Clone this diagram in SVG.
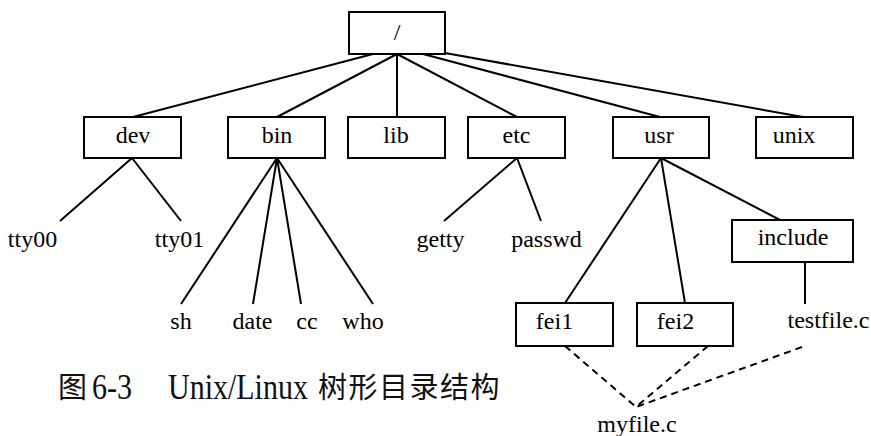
<svg xmlns="http://www.w3.org/2000/svg" width="871" height="436" viewBox="0 0 871 436">
<style>
.box{fill:#fff;stroke:#000;stroke-width:2}
.ln{stroke:#000;stroke-width:2;fill:none;stroke-linecap:butt}
.dash{stroke:#000;stroke-width:2;fill:none;stroke-dasharray:7,5}
.t{font-family:"Liberation Serif","Times New Roman",serif;font-size:24px;fill:#000;text-anchor:middle}
.cap{font-family:"Liberation Serif","Times New Roman",serif;font-size:35px;fill:#111}
.capc{font-family:"Noto Sans CJK SC",sans-serif;font-size:29px;fill:#111;letter-spacing:1.5px}
</style>
<rect width="871" height="436" fill="#fff"/>
<g id="connectors">
<line class="ln" x1="373" y1="54" x2="133" y2="117"/>
<line class="ln" x1="397" y1="54" x2="277" y2="117"/>
<line class="ln" x1="397" y1="54" x2="397" y2="117"/>
<line class="ln" x1="397" y1="54" x2="517" y2="117"/>
<line class="ln" x1="423" y1="54" x2="660" y2="117"/>
<line class="ln" x1="445" y1="53" x2="803" y2="117"/>
<line class="ln" x1="132" y1="158" x2="60" y2="221"/>
<line class="ln" x1="132" y1="158" x2="181" y2="221"/>
<line class="ln" x1="277" y1="158" x2="181" y2="304"/>
<line class="ln" x1="277" y1="158" x2="253" y2="304"/>
<line class="ln" x1="277" y1="158" x2="301" y2="304"/>
<line class="ln" x1="277" y1="158" x2="373" y2="304"/>
<line class="ln" x1="517" y1="158" x2="444" y2="221"/>
<line class="ln" x1="517" y1="158" x2="541" y2="221"/>
<line class="ln" x1="661" y1="158" x2="565" y2="303"/>
<line class="ln" x1="661" y1="158" x2="685" y2="303"/>
<line class="ln" x1="661" y1="158" x2="780" y2="220"/>
<line class="ln" x1="805" y1="262" x2="805" y2="304"/>
<line class="dash" x1="565" y1="346" x2="636" y2="407"/>
<line class="dash" x1="708" y1="346" x2="636" y2="407"/>
<line class="dash" x1="802" y1="347" x2="636" y2="407"/>
</g>
<g id="root"><rect class="box" x="349" y="12" width="96" height="42"/><text class="t" x="397" y="40">/</text></g>
<g id="dev"><rect class="box" x="84" y="117" width="97" height="41"/><text class="t" x="133" y="143">dev</text></g>
<g id="bin"><rect class="box" x="228" y="117" width="97" height="41"/><text class="t" x="277" y="143">bin</text></g>
<g id="lib"><rect class="box" x="348" y="117" width="97" height="41"/><text class="t" x="396" y="143">lib</text></g>
<g id="etc"><rect class="box" x="468" y="117" width="97" height="41"/><text class="t" x="516.5" y="143">etc</text></g>
<g id="usr"><rect class="box" x="613" y="117" width="96" height="41"/><text class="t" x="659" y="143">usr</text></g>
<g id="unix"><rect class="box" x="756" y="117" width="97" height="41"/><text class="t" x="794" y="143">unix</text></g>
<g id="tty00"><text class="t" x="32.5" y="247">tty00</text></g>
<g id="tty01"><text class="t" x="179.5" y="247">tty01</text></g>
<g id="sh"><text class="t" x="181" y="329">sh</text></g>
<g id="date"><text class="t" x="252.5" y="329">date</text></g>
<g id="cc"><text class="t" x="307" y="329">cc</text></g>
<g id="who"><text class="t" x="363" y="329">who</text></g>
<g id="getty"><text class="t" x="440.5" y="247">getty</text></g>
<g id="passwd"><text class="t" x="546.5" y="247">passwd</text></g>
<g id="include"><rect class="box" x="732" y="220" width="121" height="42"/><text class="t" x="793" y="245">include</text></g>
<g id="testfile"><text class="t" x="828.5" y="328">testfile.c</text></g>
<g id="fei1"><rect class="box" x="516" y="303" width="97" height="43"/><text class="t" x="554.5" y="329">fei1</text></g>
<g id="fei2"><rect class="box" x="637" y="303" width="96" height="43"/><text class="t" x="675.5" y="329">fei2</text></g>
<g id="myfile"><text class="t" x="637" y="432">myfile.c</text></g>
<g id="caption">
<text class="capc" x="58" y="398">图</text>
<text class="cap" transform="translate(92,399) scale(0.86,1)">6-3</text>
<text class="cap" transform="translate(168,399) scale(0.857,1)">Unix/Linux</text>
<text class="capc" x="318" y="398">树形目录结构</text>
</g>
</svg>
